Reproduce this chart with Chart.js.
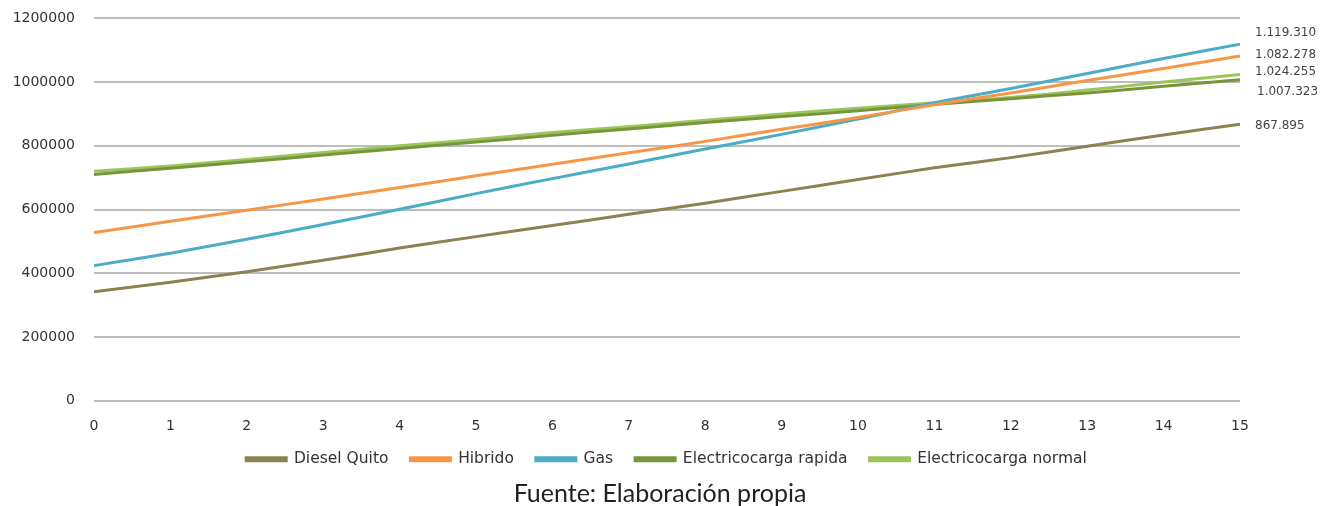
<!DOCTYPE html>
<html>
<head>
<meta charset="utf-8">
<script src="https://cdn.jsdelivr.net/npm/chart.js@4"></script>
<style>
  html, body { margin: 0; padding: 0; background: #fff; overflow: hidden; }
  #wrap { position: relative; width: 1333px; height: 506px; overflow: hidden; }
  #c { position: absolute; left: 0; top: -9px; }
  #caption { position: absolute; left: 0; width: 1320px; top: 477px; text-align: center;
             font-family: Lato, 'Open Sans', sans-serif; font-size: 25px; color: #222; }
</style>
</head>
<body>
<div id="wrap">
  <canvas id="c" width="1333" height="515"></canvas>
  <div id="caption">Fuente: Elaboración propia</div>
</div>
<script>
const years = ['0','1','2','3','4','5','6','7','8','9','10','11','12','13','14','15'];
const seriesNames = ['Diesel Quito', 'Hibrido', 'Gas', 'Electricocarga rapida', 'Electricocarga normal'];
const dieselQuito = [342000, 372000, 405000, 441000, 479000, 515000, 550000, 585000, 620000, 657000, 694000, 731000, 763000, 799000, 834000, 867895];
const hibrido = [528000, 563000, 598000, 633000, 669000, 706000, 742000, 778000, 814000, 852000, 889000, 929000, 966000, 1005000, 1043000, 1082278];
const gas = [424000, 463000, 507000, 553000, 601000, 650000, 697000, 743000, 790000, 836000, 884000, 935000, 980000, 1027000, 1074000, 1119310];
const electricoRapida = [710000, 730000, 750000, 771000, 792000, 812000, 833000, 853000, 873000, 892000, 910000, 930000, 948000, 966000, 987000, 1007323];
const electricoNormal = [720000, 737000, 757000, 779000, 800000, 820000, 842000, 860000, 880000, 900000, 918000, 935000, 952000, 975000, 1000000, 1024255];
const yTicks = [0, 200000, 400000, 600000, 800000, 1000000, 1200000];

const colors = ['#8c8152', '#f79646', '#4bacc6', '#77963c', '#9bc559'];
const labelOffsets = [2, -1, -11, 12, -3];
const labelDx = [15, 15, 15, 17, 15];
const legendTrail = [' ', ' ', ' ', ' ', ''];

function fmt(v) {
  return String(Math.round(v)).replace(/\B(?=(\d{3})+(?!\d))/g, '.');
}

const allSeries = [dieselQuito, hibrido, gas, electricoRapida, electricoNormal];

const endLabels = {
  id: 'endLabels',
  afterDatasetsDraw(chart) {
    const ctx = chart.ctx;
    ctx.save();
    ctx.font = '12px "DejaVu Sans", sans-serif';
    ctx.fillStyle = '#444';
    ctx.textAlign = 'left';
    ctx.textBaseline = 'middle';
    chart.data.datasets.forEach((ds, i) => {
      const meta = chart.getDatasetMeta(i);
      const pt = meta.data[meta.data.length - 1];
      ctx.fillText(fmt(ds.data[ds.data.length - 1]), pt.x + labelDx[i], pt.y + labelOffsets[i]);
    });
    ctx.restore();
  }
};

new Chart(document.getElementById('c'), {
  type: 'line',
  data: {
    labels: years,
    datasets: allSeries.map((d, i) => ({
      label: seriesNames[i],
      data: d,
      borderColor: colors[i],
      backgroundColor: colors[i],
      borderWidth: 3,
      pointRadius: 0,
      tension: 0.3,
      fill: false
    }))
  },
  options: {
    responsive: false,
    animation: false,
    layout: { padding: { top: 1, right: 0, bottom: 29, left: 0 } },
    plugins: {
      tooltip: { enabled: false },
      legend: {
        position: 'bottom',
        labels: {
          boxWidth: 40,
          boxHeight: 3,
          padding: 17,
          color: '#333',
          font: { family: '"DejaVu Sans", sans-serif', size: 15.5 },
          generateLabels(chart) {
            const items = Chart.defaults.plugins.legend.labels.generateLabels(chart);
            items.forEach((it, i) => { it.text = it.text + legendTrail[i]; });
            return items;
          }
        }
      }
    },
    scales: {
      x: {
        offset: false,
        grid: { display: false, drawTicks: true, tickLength: 17 },
        border: { display: false },
        ticks: { color: '#333', padding: 0, maxRotation: 0, autoSkip: false,
                 font: { family: '"DejaVu Sans", sans-serif', size: 14 } }
      },
      y: {
        min: 0, max: 1200000,
        afterFit(scale) { scale.width = 94; },
        afterBuildTicks(scale) { scale.ticks = yTicks.map(v => ({ value: v })); },
        grid: { color: '#bdbdbd', lineWidth: 2, drawTicks: false },
        border: { display: false },
        ticks: { color: '#333', padding: 19,
                 font: { family: '"DejaVu Sans", sans-serif', size: 14 },
                 callback: v => String(v) }
      },
      yRight: {
        position: 'right',
        afterFit(scale) { scale.width = 93; },
        grid: { display: false },
        border: { display: false },
        ticks: { display: false }
      }
    }
  },
  plugins: [endLabels]
});
</script>
</body>
</html>
